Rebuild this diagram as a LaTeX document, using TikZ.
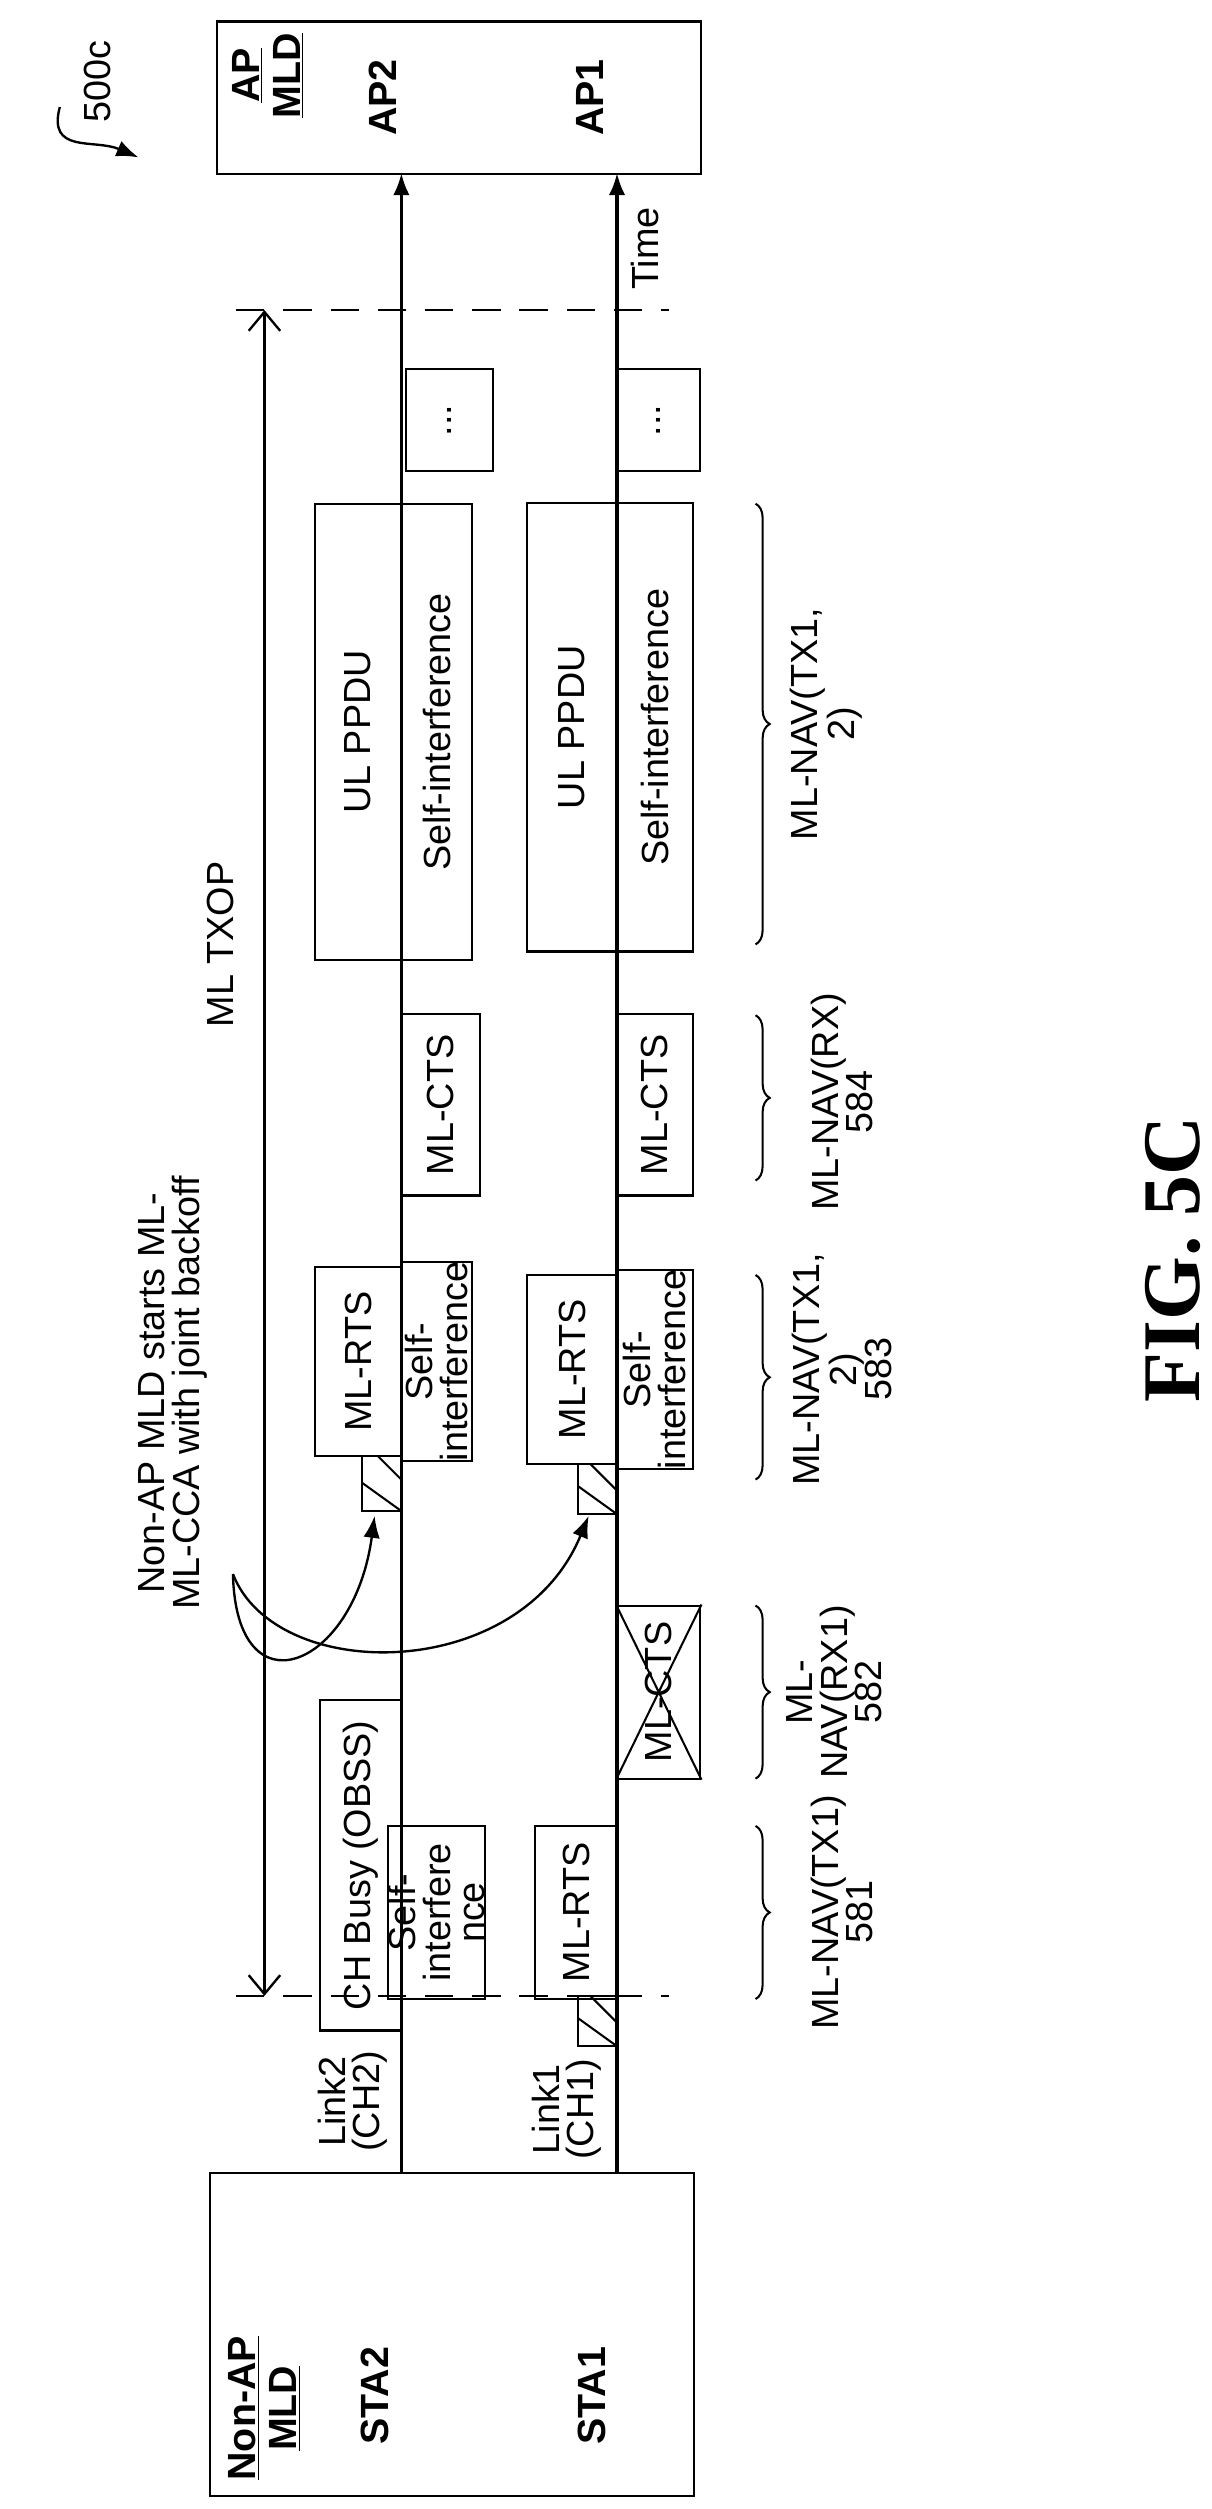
\documentclass[tikz,border=0pt]{standalone}
\usepackage{fontspec}
\setmainfont{Liberation Sans}
\newfontfamily\figfont{Liberation Serif}
\usetikzlibrary{arrows.meta, decorations.pathreplacing}

\begin{document}
\begin{tikzpicture}[x=1pt, y=-1pt, line width=1.5pt,
        font=\fontsize{24}{22}\selectfont,
        frm/.style={draw, rotate=90, align=center, inner sep=0pt, line width=1.3pt},
        txt/.style={rotate=90, align=center, inner sep=0pt},
        lbl/.style={txt, font=\fontsize{25}{26}\selectfont\bfseries},
        brc/.style={decorate, decoration={brace, amplitude=9pt}, line width=1.3pt}]
        \useasboundingbox (0,0) rectangle (770,1594);

        % boxes of the two MLDs
        \node[draw, minimum width=308pt, minimum height=97pt, anchor=north west, line width=1.3pt] (apmld) at (137,13) {};
        \node[draw, minimum width=307pt, minimum height=205pt, anchor=north west, line width=1.3pt] (nonap) at (133,1380) {};
        \node[lbl] (aplbl) at (170,48) {\underline{AP}\\\underline{MLD}};
        \node[lbl] (ap2) at (243,62) {AP2};
        \node[lbl] (ap1) at (375,62) {AP1};
        \node[lbl] (nonaplbl) at (168,1530) {\underline{Non-AP}\\\underline{MLD}};
        \node[lbl] (sta2) at (238,1522) {STA2};
        \node[lbl] (sta1) at (376,1522) {STA1};

        % time lines
        \coordinate (s2) at (255,1380);
        \coordinate (a2) at (255,110);
        \coordinate (s1) at (392,1380);
        \coordinate (a1) at (392,110);
        \draw[-{Latex[length=14pt]}, line width=2pt] (s2) -- (a2);
        \draw[-{Latex[length=14pt]}, line width=2pt] (s1) -- (a1);
        \node[txt] (time) at (410,158) {Time};
        \node[txt] (link2) at (224,1335) {Link2\\(CH2)};
        \node[txt] (link1) at (360,1340) {Link1\\(CH1)};

        % ML TXOP
        \coordinate (d1) at (150,197);
        \coordinate (d2) at (425,197);
        \coordinate (d3) at (150,1268);
        \coordinate (d4) at (425,1268);
        \draw[dash pattern=on 18pt off 12pt] (d1) -- (d2);
        \draw[dash pattern=on 18pt off 12pt] (d3) -- (d4);
        \coordinate (t1) at (168,197);
        \coordinate (t2) at (168,1268);
        \draw[{Straight Barb[length=12pt, width=20pt]}-{Straight Barb[length=12pt, width=20pt]}] (t1) -- (t2);
        \node[txt] (txop) at (140,600) {ML TXOP};

        % link 2
        \node[frm, minimum width=210pt, minimum height=52pt] (busy2) at (229,1185) {CH Busy (OBSS)};
        \node[frm, minimum width=110pt, minimum height=45pt] (si21) at (277.5,1215) {Self-\\interfere\\nce};
        \draw[line width=1.3pt] (230,925) rectangle (255,960);
        \draw[line width=1.3pt] (240,925) -- (255,940) (230,942) -- (255,960);
        \node[frm, minimum width=120pt, minimum height=55pt] (rts2) at (227.5,865) {ML-RTS};
        \node[frm, minimum width=120pt, minimum height=45pt] (si22) at (277.5,865) {Self-\\interference};
        \node[frm, minimum width=115pt, minimum height=50pt] (cts2) at (280,702) {ML-CTS};
        \node[frm, minimum width=290pt, minimum height=55pt] (ppdu2) at (227.5,465) {UL PPDU};
        \node[frm, minimum width=290pt, minimum height=45pt] (si23) at (277.5,465) {Self-interference};
        \node[frm, minimum width=65pt, minimum height=55pt] (more2) at (285.5,267) {...};

        % link 1
        \draw[line width=1.3pt] (367,1268) rectangle (392,1300);
        \draw[line width=1.3pt] (375,1268) -- (392,1285) (367,1282) -- (392,1300);
        \node[frm, minimum width=110pt, minimum height=52pt] (rts11) at (366,1215) {ML-RTS};
        \node[frm, minimum width=110pt, minimum height=53pt] (cts11) at (418.5,1075) {ML-CTS};
        \draw[line width=1.3pt] (cts11.north west) -- (cts11.south east) (cts11.north east) -- (cts11.south west);
        \draw[line width=1.3pt] (367,930) rectangle (392,962);
        \draw[line width=1.3pt] (375,930) -- (392,947) (367,944) -- (392,962);
        \node[frm, minimum width=120pt, minimum height=57pt] (rts12) at (363.5,870) {ML-RTS};
        \node[frm, minimum width=120pt, minimum height=48pt] (si12) at (416,870) {Self-\\interference};
        \node[frm, minimum width=115pt, minimum height=48pt] (cts1) at (416,702) {ML-CTS};
        \node[frm, minimum width=285pt, minimum height=57pt] (ppdu1) at (363.5,462) {UL PPDU};
        \node[frm, minimum width=285pt, minimum height=48pt] (si13) at (416,462) {Self-interference};
        \node[frm, minimum width=65pt, minimum height=53pt] (more1) at (418.5,267) {...};

        % NAV braces
        \draw[brc] (480,1160) -- (480,1270);
        \draw[brc] (480,1020) -- (480,1130);
        \draw[brc] (480,810) -- (480,940);
        \draw[brc] (480,645) -- (480,750);
        \draw[brc] (480,320) -- (480,600);
        \node[txt] (nav1) at (535,1215) {ML-NAV(TX1)\\581};
        \node[txt] (nav2) at (530,1075) {ML-\\NAV(RX1)\\582};
        \node[txt] (nav3) at (535,870) {ML-NAV(TX1,\\2)\\583};
        \node[txt] (nav4) at (535,700) {ML-NAV(RX)\\584};
        \node[txt] (nav5) at (525,460) {ML-NAV(TX1,\\2)};

        % joint backoff note
        \node[txt] (note) at (110,885) {Non-AP MLD starts ML-\\ML-CCA with joint backoff};
        \coordinate (c0) at (148,1000);
        \draw[-{Latex[length=14pt]}] (c0) .. controls (150,1090) and (225,1060) .. (238,963);
        \draw[-{Latex[length=14pt]}] (c0) .. controls (175,1070) and (330,1070) .. (374,963);

        % figure label
        \node[txt] (ref) at (62,52) {500c};
        \draw[-{Latex[length=14pt]}] (38,68) .. controls (30,98) and (60,88) .. (88,100);
        \node[txt, font=\figfont\fontsize{52}{56}\selectfont\bfseries] (fig) at (745,800) {FIG. 5C};
\end{tikzpicture}
\end{document}
